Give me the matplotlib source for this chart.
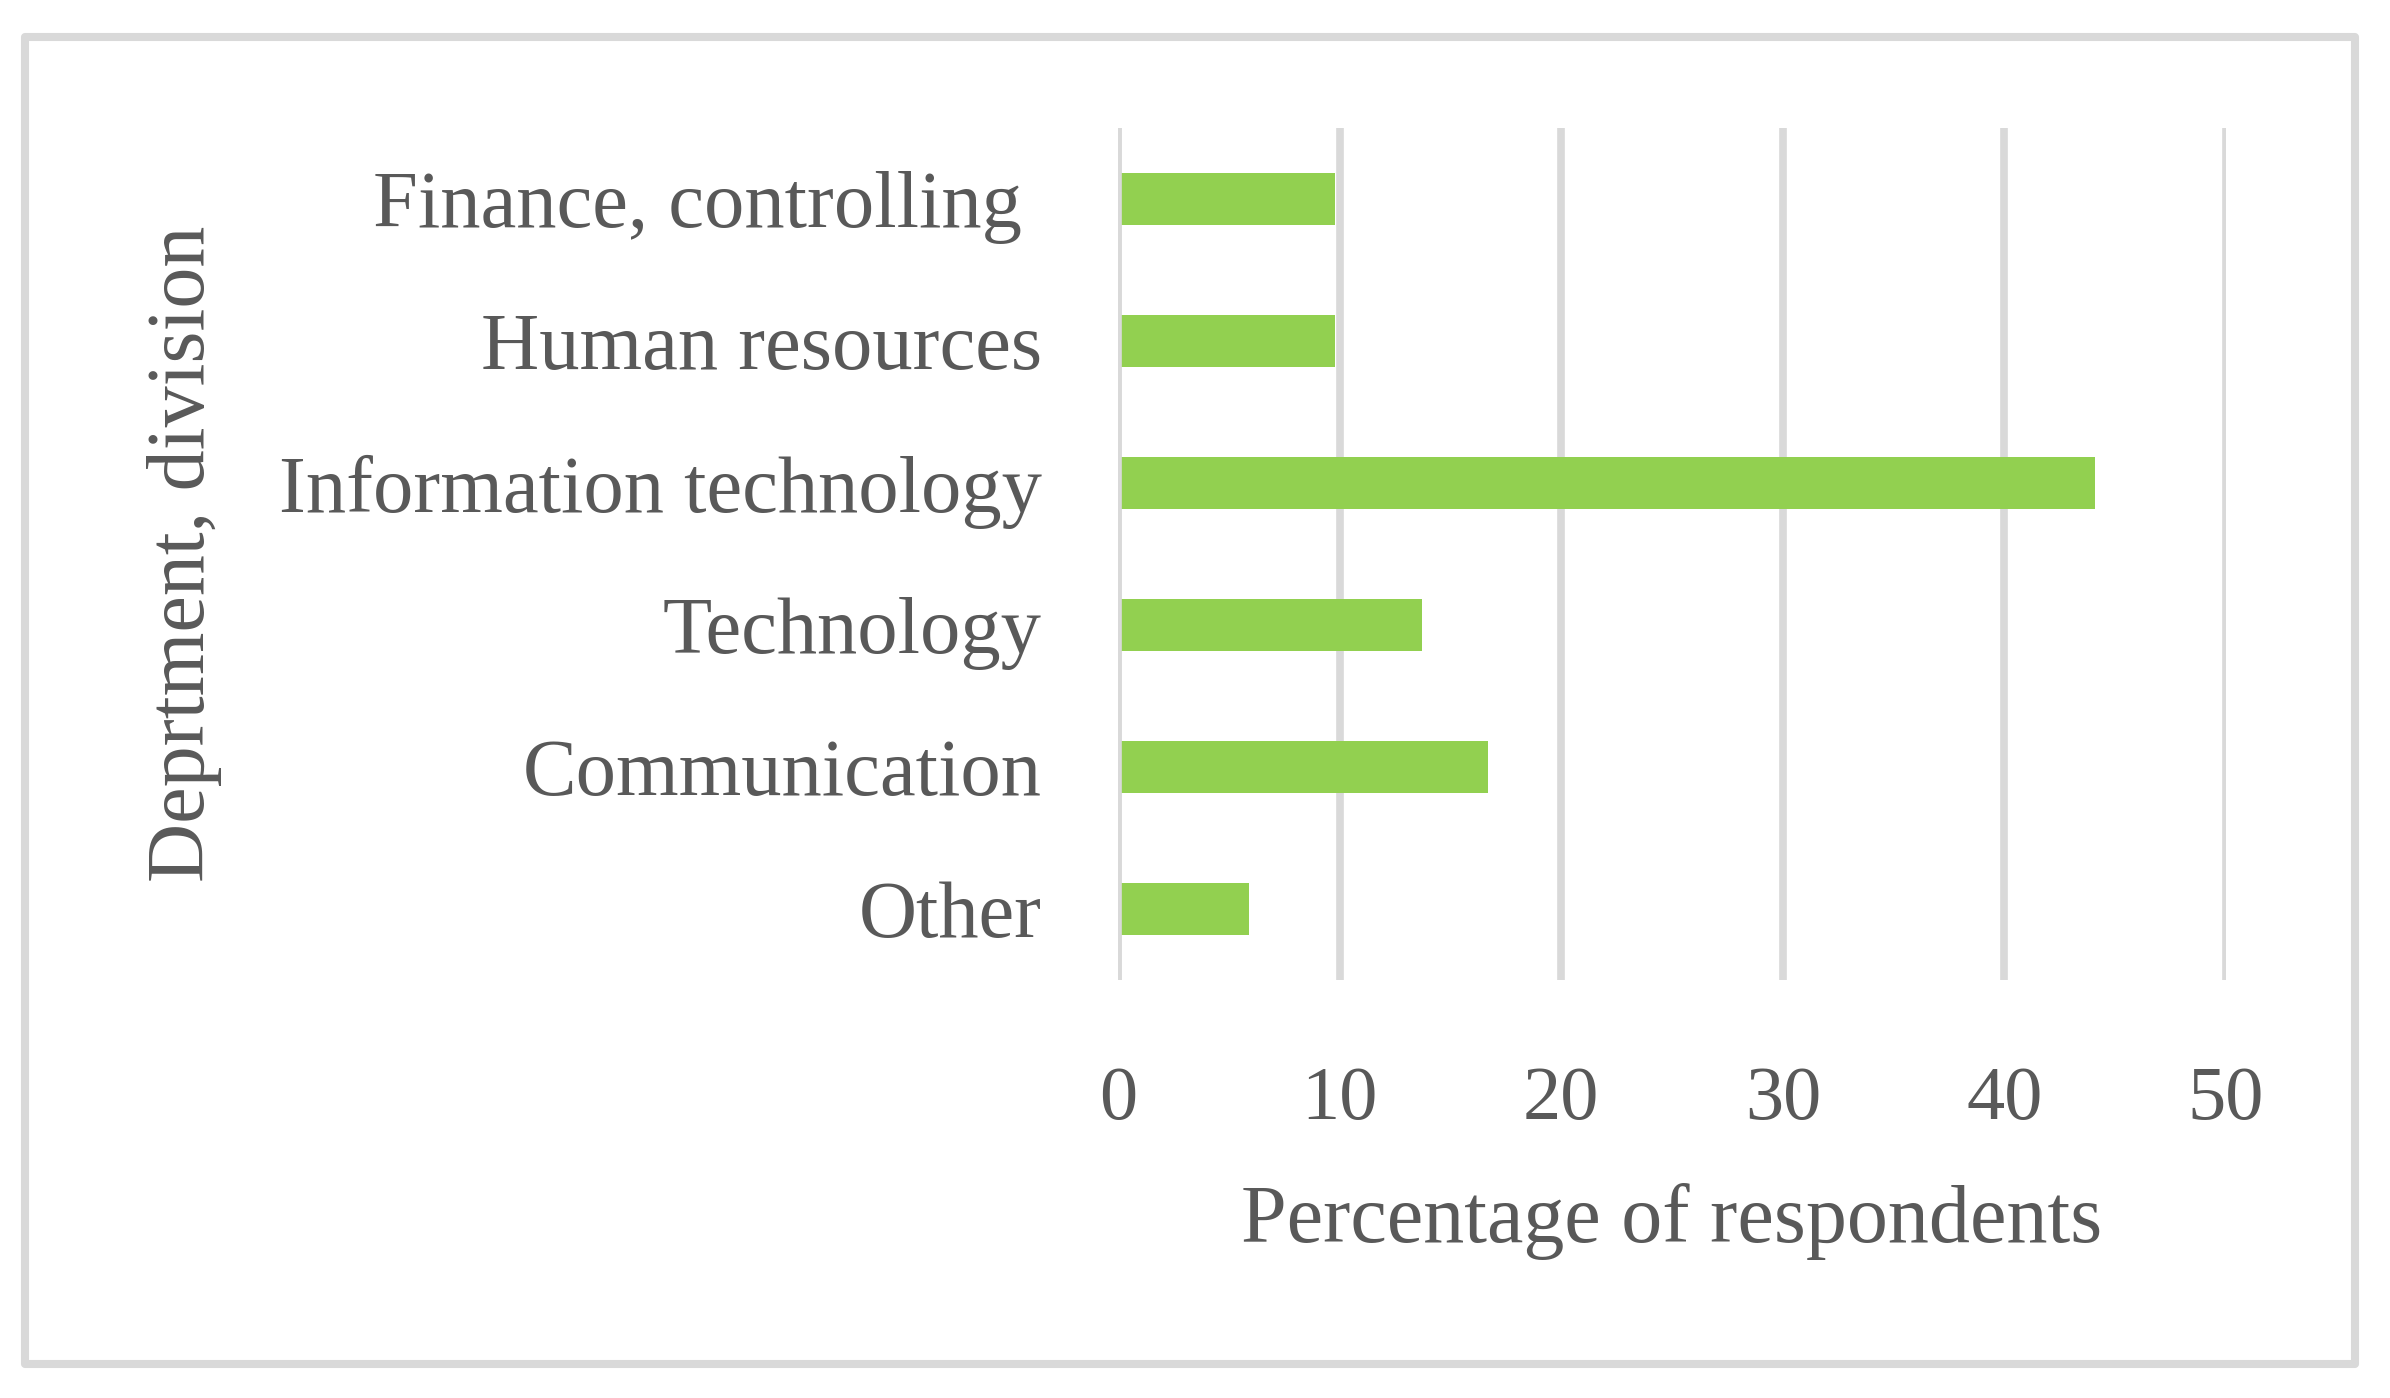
import matplotlib.pyplot as plt
from matplotlib.patches import Rectangle

# data
categories = ['Finance, controlling ', 'Human resources', 'Information technology',
              'Technology', 'Communication', 'Other']
percentages = [9.8, 9.8, 44.1, 13.7, 16.7, 5.9]
xticks = [0, 10, 20, 30, 40, 50]

text_color = '#595959'
grid_color = '#d9d9d9'
bar_color = '#92d050'


def main():
    plt.rcParams['font.family'] = ['Liberation Serif', 'DejaVu Serif']

    fig = plt.figure(figsize=(23.9, 13.98), dpi=100)
    ax = fig.add_axes([0.4678, 0.299, 0.4636, 0.6094])

    ax.barh(categories, percentages, height=0.366, color=bar_color, zorder=2)
    ax.set_ylim(-0.5, len(categories) - 0.5)
    ax.invert_yaxis()
    ax.set_xlim(0, 50)
    ax.set_xticks(xticks)

    ax.grid(axis='x', color=grid_color, linewidth=5.5, zorder=1)
    ax.axvline(0, color=grid_color, linewidth=5.5, zorder=3)
    ax.set_axisbelow(True)
    for s in ax.spines.values():
        s.set_visible(False)

    ax.tick_params(axis='y', length=0, pad=55, labelsize=58, labelcolor=text_color)
    ax.tick_params(axis='x', length=0, pad=62, labelsize=55, labelcolor=text_color)

    ax.set_xlabel('Percentage of respondents', fontsize=59, color=text_color, va='center')
    ax.xaxis.set_label_coords(0.5, -0.283)
    ax.set_ylabel('Deprtment, division', fontsize=59, color=text_color, va='center')
    ax.yaxis.set_label_coords(-0.843, 0.5)

    # outer chart border
    fig.patches.append(Rectangle((0.01046, 0.0243), 0.975, 0.9492, transform=fig.transFigure,
                                 fill=False, edgecolor=grid_color, linewidth=5.8,
                                 joinstyle='round'))

    fig.savefig('out.png', dpi=100)


if __name__ == "__main__":
    main()
